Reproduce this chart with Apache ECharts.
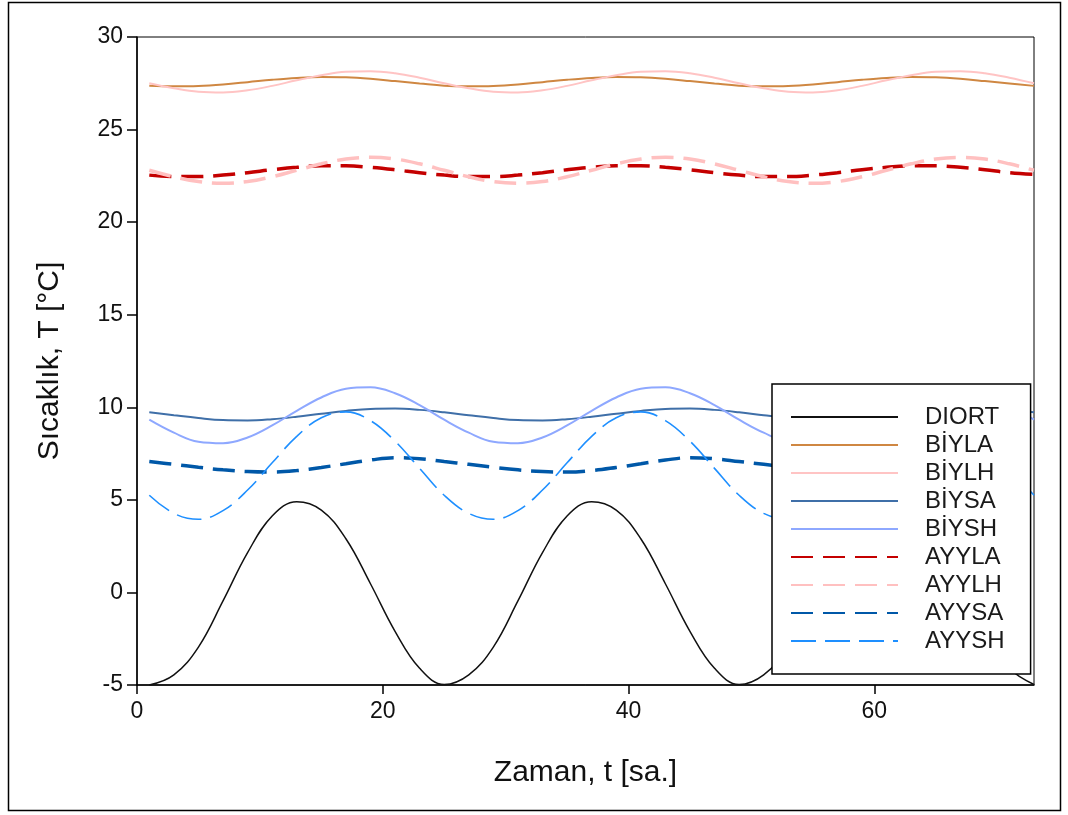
<!DOCTYPE html>
<html>
<head>
<meta charset="utf-8">
<script src="https://cdn.jsdelivr.net/npm/echarts@6/dist/echarts.min.js"></script>
<style>
html,body{margin:0;padding:0;background:#fff;}
#chart{width:1068px;height:815px;}
</style>
</head>
<body>
<div id="chart"></div>
<script>
// Time [h]
const times = [1,3,5,7,9,11,13,15,17,19,21,23,25,27,29,31,33,35,37,39,41,43,45,47,49,51,53,55,57,59,61,63,65,67,69,71,73];
const seriesNames = ['DIORT','BİYLA','BİYLH','BİYSA','BİYSH','AYYLA','AYYLH','AYYSA','AYYSH'];

const DIORT = [-5.0,-4.45,-2.95,-0.46,2.15,4.13,4.9,4.45,2.9,0.47,-2.1,-4.1,
               -4.97,-4.45,-2.95,-0.46,2.15,4.13,4.9,4.45,2.9,0.47,-2.1,-4.1,
               -4.97,-4.45,-2.95,-0.46,2.15,4.13,4.9,4.45,2.9,0.47,-2.1,-4.1,-4.97];
const BIYLA = [27.37,27.34,27.36,27.44,27.56,27.69,27.79,27.84,27.82,27.74,27.62,27.49,
               27.37,27.34,27.36,27.44,27.56,27.69,27.79,27.84,27.82,27.74,27.62,27.49,
               27.37,27.34,27.36,27.44,27.56,27.69,27.79,27.84,27.82,27.74,27.62,27.49,27.36];
const BIYLH = [27.50,27.23,27.04,27.0,27.12,27.36,27.66,27.93,28.12,28.15,28.04,27.80,
               27.50,27.23,27.04,27.0,27.12,27.36,27.66,27.93,28.12,28.15,28.04,27.80,
               27.50,27.23,27.04,27.0,27.12,27.36,27.66,27.93,28.12,28.15,28.04,27.80,27.50];
const BIYSA = [9.73,9.57,9.42,9.31,9.29,9.36,9.49,9.65,9.80,9.91,9.93,9.86,
               9.73,9.57,9.42,9.31,9.29,9.36,9.49,9.65,9.80,9.91,9.93,9.86,
               9.73,9.57,9.42,9.31,9.29,9.36,9.49,9.65,9.80,9.91,9.93,9.86,9.73];
const BIYSH = [9.33,8.63,8.14,8.06,8.37,9.02,9.81,10.53,11.0,11.08,10.76,10.12,
               9.33,8.63,8.14,8.06,8.37,9.02,9.81,10.53,11.0,11.08,10.76,10.12,
               9.33,8.63,8.14,8.06,8.37,9.02,9.81,10.53,11.0,11.08,10.76,10.12,9.33];
const AYYLA = [22.54,22.46,22.46,22.54,22.67,22.83,22.96,23.04,23.04,22.96,22.83,22.67,
               22.54,22.46,22.46,22.54,22.67,22.83,22.96,23.04,23.04,22.96,22.83,22.67,
               22.54,22.46,22.46,22.54,22.67,22.83,22.96,23.04,23.04,22.96,22.83,22.67,22.58];
const AYYLH = [22.8,22.45,22.19,22.1,22.19,22.45,22.8,23.15,23.41,23.5,23.41,23.15,
               22.8,22.45,22.19,22.1,22.19,22.45,22.8,23.15,23.41,23.5,23.41,23.15,
               22.8,22.45,22.19,22.1,22.19,22.45,22.8,23.15,23.41,23.5,23.41,23.15,22.8];
const AYYSA = [7.07,6.92,6.76,6.62,6.53,6.5,6.58,6.75,6.95,7.15,7.28,7.22,
               7.07,6.92,6.76,6.62,6.53,6.5,6.58,6.75,6.95,7.15,7.28,7.22,
               7.07,6.92,6.76,6.62,6.53,6.5,6.58,6.75,6.95,7.15,7.28,7.22,7.07];
const AYYSH = [5.25,4.27,3.95,4.42,5.53,7.0,8.43,9.43,9.75,9.28,8.17,6.7,
               5.25,4.27,3.95,4.42,5.53,7.0,8.43,9.43,9.75,9.28,8.17,6.7,
               5.25,4.27,3.95,4.42,5.53,7.0,8.43,9.43,9.75,9.28,8.17,6.7,5.25];
const xTicks = [0,20,40,60];
const yTicks = [-5,0,5,10,15,20,25,30];

const values = [DIORT,BIYLA,BIYLH,BIYSA,BIYSH,AYYLA,AYYLH,AYYSA,AYYSH];
const styles = [
  {color:'#111111', width:1.5, type:'solid'},
  {color:'#cf8742', width:2, type:'solid'},
  {color:'#ffc4c4', width:2, type:'solid'},
  {color:'#3f6fa8', width:2, type:'solid'},
  {color:'#8ea8ff', width:2, type:'solid'},
  {color:'#c40000', width:3.5, type:[22,10]},
  {color:'#ffc0c0', width:3.5, type:[22,10]},
  {color:'#0058a8', width:3.5, type:[22,10]},
  {color:'#1e8fff', width:1.6, type:[25,9]}
];

const FONT = "'Liberation Sans', Arial, sans-serif";
const chart = echarts.init(document.getElementById('chart'), null, {renderer:'canvas'});

const series = seriesNames.map((n,i)=>({
  name:n, type:'line', smooth:0.4, showSymbol:false, symbol:'none',
  data: times.map((t,k)=>[t, values[i][k]]),
  lineStyle:{color:styles[i].color, width:styles[i].width, type:styles[i].type},
  itemStyle:{color:styles[i].color},
  z: 2, z2: 10 - i
}));

chart.setOption({
  animation:false,
  backgroundColor:'#ffffff',
  grid:{left:137, right:34, top:37, bottom:130, show:true, borderColor:'#000', borderWidth:1, backgroundColor:'transparent'},
  xAxis:{
    type:'value', min:0, max:73, interval:20,
    name:'Zaman, t [sa.]', nameLocation:'middle', nameGap:73,
    nameTextStyle:{fontFamily:FONT, fontSize:30, color:'#111'},
    axisLine:{show:true, onZero:false, lineStyle:{color:'#000', width:1.5}},
    axisTick:{show:true, inside:false, length:9, customValues:xTicks, lineStyle:{color:'#000', width:1.5}},
    axisLabel:{fontFamily:FONT, fontSize:23, color:'#111', margin:15,
      formatter:v=> xTicks.indexOf(v) >= 0 ? String(v) : ''},
    splitLine:{show:false}
  },
  yAxis:{
    type:'value', min:-5, max:30, interval:5,
    name:'Sıcaklık, T [°C]', nameLocation:'middle', nameGap:72, nameRotate:90,
    nameTextStyle:{fontFamily:FONT, fontSize:30, color:'#111'},
    axisLine:{show:true, onZero:false, lineStyle:{color:'#000', width:1.5}},
    axisTick:{show:true, inside:false, length:10, lineStyle:{color:'#000', width:1.5}},
    axisLabel:{fontFamily:FONT, fontSize:23, color:'#111', margin:14,
      formatter:v=> yTicks.indexOf(v) >= 0 ? String(v) : ''},
    splitLine:{show:false}
  },
  legend:{
    show:true, orient:'vertical', left:772, top:384, z:50,
    padding:[19,26,19,18],
    itemWidth:107, itemHeight:14, itemGap:0,
    itemStyle:{opacity:0},
    backgroundColor:'#ffffff', borderColor:'#000', borderWidth:1.5,
    textStyle:{fontFamily:FONT, fontSize:24, color:'#1a1a1a', lineHeight:28, padding:[0,0,0,22]},
    data: seriesNames
  },
  graphic:[{
    type:'rect', silent:true, z:100,
    shape:{x:8.5, y:2.5, width:1052, height:808},
    style:{fill:'none', stroke:'#000', lineWidth:1.5}
  }],
  series: series
});
</script>
</body>
</html>
